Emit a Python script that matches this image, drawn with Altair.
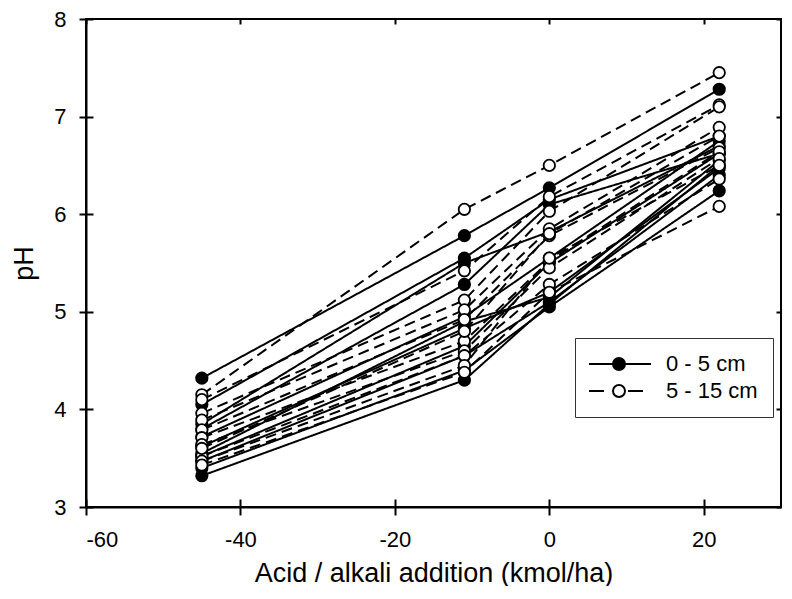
import altair as alt
import pandas as pd

# x positions of the treatments (kmol/ha)
x_levels = [-45, -11, 0, 22]
depths = ["0 - 5 cm", "5 - 15 cm"]

# pH per site, 0 - 5 cm (filled circles, solid lines)
ph_0_5 = [
    [4.32, 5.78, 6.27, 7.28],
    [4.05, 5.55, 6.15, 6.80],
    [3.85, 5.50, 5.82, 6.70],
    [3.80, 5.28, 6.10, 6.62],
    [3.72, 4.95, 5.55, 6.75],
    [3.62, 4.83, 5.20, 6.47],
    [3.55, 4.90, 5.15, 6.55],
    [3.47, 4.55, 5.10, 6.40],
    [3.40, 4.40, 5.05, 6.24],
    [3.32, 4.30, 5.08, 6.50],
    [3.52, 4.65, 5.50, 6.62],
]

# pH per site, 5 - 15 cm (open circles, dashed lines)
ph_5_15 = [
    [4.15, 6.05, 6.50, 7.45],
    [4.10, 5.42, 6.18, 7.12],
    [3.96, 5.12, 6.03, 7.10],
    [3.89, 5.02, 5.85, 6.89],
    [3.79, 4.92, 5.78, 6.68],
    [3.71, 4.70, 5.52, 6.64],
    [3.64, 4.60, 5.45, 6.57],
    [3.52, 4.55, 5.28, 6.36],
    [3.47, 4.45, 5.55, 6.50],
    [3.43, 4.38, 5.20, 6.08],
    [3.60, 4.80, 5.80, 6.80],
]

x_ticks = [-60, -40, -20, 0, 20]
y_ticks = [3, 4, 5, 6, 7, 8]

rows = []
for depth, table in zip(depths, [ph_0_5, ph_5_15]):
    for i, series in enumerate(table):
        for xv, v in zip(x_levels, series):
            rows.append({"x": xv, "pH": v, "series": f"{depth}-{i}", "depth": depth})
df = pd.DataFrame(rows)

FONT = "Liberation Sans"
xscale = alt.Scale(domain=[-60, 30], nice=False, zero=False)
yscale = alt.Scale(domain=[3, 8], nice=False, zero=False)

# legend symbols: line with a circle in the middle
solid_sym = "M-3,0H3.2M0.6,0A0.6,0.6,0,1,1,-0.6,0A0.6,0.6,0,1,1,0.6,0Z"
dash_sym = "M-3,0H-1.5M0.9,0H2.4M0.6,0A0.6,0.6,0,1,1,-0.6,0A0.6,0.6,0,1,1,0.6,0Z"


def inner_axis(orient, size, offset):
    return alt.Axis(
        orient=orient, values=x_ticks if orient in ("top", "bottom") else y_ticks,
        labels=False, domain=False, title=None, tickSize=size, offset=offset,
    )


lines = alt.Chart(df).mark_line(color="black", strokeWidth=2).encode(
    x=alt.X(
        "x:Q",
        scale=xscale,
        axis=alt.Axis(
            orient="bottom",
            values=x_ticks,
            labelExpr="'' + datum.value",
            title="Acid / alkali addition (kmol/ha)",
            tickSize=8,
            labelPadding=14,
            titlePadding=10,
        ),
    ),
    y=alt.Y(
        "pH:Q",
        scale=yscale,
        axis=alt.Axis(
            orient="left",
            values=y_ticks,
            title="pH",
            tickSize=7,
            labelPadding=13,
            titlePadding=15,
        ),
    ),
    detail="series:N",
    strokeDash=alt.StrokeDash(
        "depth:N",
        scale=alt.Scale(domain=depths, range=[[1, 0], [11, 6]]),
        legend=None,
    ),
)

points = alt.Chart(df).mark_point(
    filled=True, shape="circle", size=130, stroke="black", strokeWidth=1.8, opacity=1
).encode(
    x=alt.X("x:Q", scale=xscale, axis=inner_axis("top", 5, -5)),
    y=alt.Y("pH:Q", scale=yscale, axis=inner_axis("right", 5, -5)),
    fill=alt.Fill(
        "depth:N",
        scale=alt.Scale(domain=depths, range=["black", "white"]),
        legend=None,
    ),
)

legend_def = alt.Legend(
    title=None,
    orient="none",
    legendX=489,
    legendY=319,
    padding=15,
    strokeColor="#333333",
    fillColor="white",
    symbolSize=400,
    symbolOffset=18,
    labelOffset=36,
    symbolStrokeColor="black",
    symbolStrokeWidth=2,
    symbolOpacity=1,
    labelFont=FONT,
    labelFontSize=22,
    labelColor="black",
    labelLimit=300,
    rowPadding=5,
)

legend_layer = alt.Chart(df).mark_point(
    filled=True, size=400, strokeWidth=2, opacity=0
).encode(
    x=alt.X("x:Q", scale=xscale, axis=inner_axis("bottom", 8, -8)),
    y=alt.Y("pH:Q", scale=yscale, axis=inner_axis("left", 7, -7)),
    fill=alt.Fill(
        "depth:N",
        scale=alt.Scale(domain=depths, range=["black", "white"]),
        legend=legend_def,
    ),
    stroke=alt.Stroke(
        "depth:N",
        scale=alt.Scale(domain=depths, range=["black", "black"]),
        legend=legend_def,
    ),
    shape=alt.Shape(
        "depth:N",
        scale=alt.Scale(domain=depths, range=[solid_sym, dash_sym]),
        legend=legend_def,
    ),
)

chart = (
    alt.layer(lines, points, legend_layer)
    .resolve_axis(x="independent", y="independent")
    .resolve_scale(fill="independent", shape="independent", stroke="independent")
    .properties(width=695, height=488, padding={"left": 2, "top": 0, "right": 0, "bottom": 0})
    .configure_view(stroke="black", strokeWidth=2)
    .configure_axis(
        grid=False,
        labelFont=FONT,
        labelFontSize=22,
        labelColor="black",
        titleFont=FONT,
        titleFontSize=27,
        titleFontWeight="normal",
        titleColor="black",
        tickColor="black",
        tickWidth=2,
        domainColor="black",
        domainWidth=2,
    )
)

chart.save("out.html", embed_options={"renderer": "svg", "actions": False})
